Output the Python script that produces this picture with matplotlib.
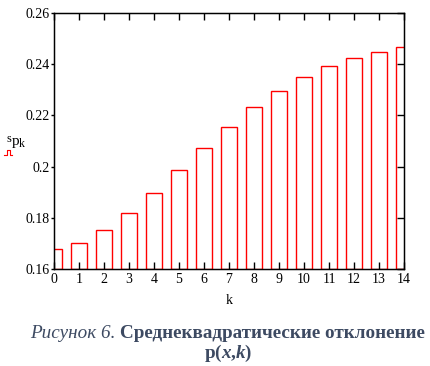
import matplotlib.pyplot as plt
from matplotlib.lines import Line2D

# --------------------------------------------------
# DATA
# --------------------------------------------------

k = list(range(15))
sp = [0.1678, 0.1700, 0.1752, 0.1819, 0.1896, 0.1985, 0.2071, 0.2154,
      0.2232, 0.2294, 0.2349, 0.2392, 0.2423, 0.2446, 0.2466]
y_ticks = [0.16, 0.18, 0.2, 0.22, 0.24, 0.26]
y_tick_labels = ["0.16", "0.18", "0.2", "0.22", "0.24", "0.26"]

# --------------------------------------------------
# FIGURE
# --------------------------------------------------

plt.rcParams["font.family"] = ["Liberation Serif", "DejaVu Serif"]
plt.rcParams["mathtext.fontset"] = "custom"
plt.rcParams["mathtext.rm"] = "Liberation Serif"
plt.rcParams["mathtext.it"] = "Liberation Serif:italic"
plt.rcParams["mathtext.bf"] = "Liberation Serif:bold"
plt.rcParams["mathtext.bfit"] = "Liberation Serif:italic:bold"

fig = plt.figure(figsize=(4.31, 3.66), dpi=100)
ax = fig.add_axes([0.1253, 0.265, 0.8121, 0.6995])

ax.bar(k, [v - 0.16 for v in sp], bottom=0.16, width=0.67,
       facecolor="white", edgecolor="#ff0000", linewidth=1.0)

ax.set_xlim(0, 14)
ax.set_ylim(0.16, 0.26)
ax.set_xticks(k)
ax.set_yticks(y_ticks)
ax.set_yticklabels(y_tick_labels)

for s in ax.spines.values():
    s.set_linewidth(1.0)

ax.tick_params(axis="x", direction="in", top=True, length=5, width=1.0,
               labelsize=10, pad=3)
ax.tick_params(axis="y", direction="out", right=False, length=2, width=1.0,
               labelsize=10, pad=1)
# right side ticks point inward
ax2 = ax.twinx()
ax2.set_ylim(0.16, 0.26)
ax2.set_yticks(y_ticks)
ax2.tick_params(axis="y", direction="in", length=5, width=1.0, labelright=False)

# y label "s p k" (prefix superscript, subscript k)
fig.text(0.016, 0.611, "s", fontsize=9, ha="left", va="baseline")
fig.text(0.027, 0.604, "p", fontsize=11, ha="left", va="baseline")
fig.text(0.044, 0.599, "k", fontsize=8.5, ha="left", va="baseline")
fig.add_artist(Line2D([0.009, 0.016, 0.016, 0.023, 0.023, 0.028],
                      [0.5765, 0.5765, 0.590, 0.590, 0.5765, 0.5765],
                      color="#ff0000", linewidth=0.8))
fig.text(0.531, 0.18, "k", fontsize=10, ha="center", va="center")

# caption
cap_color = "#3d4a62"
fig.text(0.07, 0.09, "Рисунок 6.", fontsize=13.8, style="italic",
         color=cap_color, ha="left", va="center")
fig.text(0.986, 0.09, "Среднеквадратические отклонение", fontsize=13.8,
         weight="bold", color=cap_color, ha="right", va="center")
fig.text(0.53, 0.035, r"$\mathbf{p(}\mathbfit{x}{\mathbf{,}}\mathbfit{k}\mathbf{)}$",
         fontsize=13.8, color=cap_color, ha="center", va="center")

plt.savefig("out.png", dpi=100)
